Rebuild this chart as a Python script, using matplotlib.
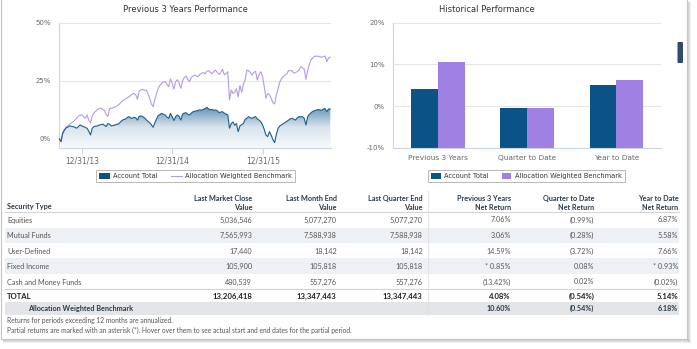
import numpy as np
import pandas as pd
import matplotlib
matplotlib.use("Agg")
import matplotlib.pyplot as plt
import matplotlib.dates as mdates
from matplotlib.patches import Rectangle, FancyBboxPatch
from matplotlib.lines import Line2D
from matplotlib.colors import LinearSegmentedColormap

# ---- data ----
start_date = "2013-10-01"
account_cum = [
    0.0, -1.3, 2.5, 3.8, 4.7, 5.0, 5.5, 5.3, 5.2, 4.9, 4.5, 5.2, 5.9, 5.5, 5.2, 4.8,
    4.5, 3.2, 1.6, 4.5, 5.2, 5.4, 5.5, 5.9, 6.0, 6.3, 5.8, 5.2, 6.5, 6.2, 5.5, 5.7,
    5.9, 6.1, 6.3, 7.0, 7.8, 8.2, 8.4, 9.0, 9.5, 9.0, 8.8, 9.2, 9.0, 8.0, 9.6, 9.8,
    9.5, 9.0, 8.2, 7.5, 6.9, 6.0, 4.9, 6.8, 8.5, 10.0, 10.4, 10.9, 10.5, 10.2, 9.3, 8.8,
    10.9, 9.5, 7.8, 9.5, 10.2, 9.6, 8.0, 10.6, 11.0, 11.2, 10.5, 10.2, 11.0, 11.6, 11.8, 12.0,
    12.2, 12.4, 12.3, 12.6, 13.0, 13.5, 12.8, 12.4, 12.6, 12.2, 12.4, 12.0, 11.2, 11.5, 11.6, 11.0,
    10.6, 10.3, 4.5, 6.5, 7.2, 5.8, 6.5, 3.0, 5.5, 6.0, 6.6, 8.3, 8.8, 9.5, 9.0, 8.8,
    9.2, 9.5, 8.5, 8.0, 7.3, 6.0, 4.0, 1.5, 0.9, 3.0, 1.5, -0.5, -1.7, 2.0, 4.5, 5.5,
    6.0, 6.5, 6.9, 7.5, 8.0, 8.6, 8.8, 8.4, 8.0, 9.0, 9.5, 9.4, 9.5, 8.8, 5.9, 9.5,
    10.5, 11.2, 11.8, 12.1, 12.3, 12.6, 12.4, 12.2, 12.8, 13.0, 11.6, 12.8, 12.8,
]
benchmark_cum = [
    0.0, -1.2, 2.0, 3.5, 5.0, 5.5, 6.3, 6.8, 7.3, 8.0, 8.9, 9.8, 10.0, 10.3, 9.4, 8.8,
    10.2, 8.0, 6.8, 9.8, 11.2, 11.8, 12.6, 12.9, 13.2, 12.5, 12.2, 10.5, 9.6, 13.0, 13.1, 13.3,
    13.6, 14.0, 14.6, 15.2, 16.0, 16.6, 17.0, 17.5, 18.0, 18.6, 19.2, 19.5, 18.9, 17.0, 20.5, 21.0,
    21.3, 20.8, 21.0, 19.5, 17.5, 15.0, 13.8, 16.8, 19.5, 21.7, 23.0, 24.0, 24.3, 24.6, 23.5, 22.4,
    25.8, 24.0, 21.3, 24.6, 25.4, 24.0, 21.7, 25.0, 26.3, 27.0, 25.5, 24.6, 26.4, 27.0, 27.4, 27.0,
    26.7, 27.8, 28.2, 28.5, 28.0, 29.0, 29.3, 28.5, 28.0, 29.0, 29.6, 28.5, 27.6, 28.6, 29.9, 27.5,
    28.0, 28.9, 16.7, 21.0, 19.5, 20.0, 21.5, 18.0, 23.0, 20.0, 23.5, 25.3, 29.6, 29.2, 28.6, 27.4,
    28.6, 29.0, 25.3, 27.5, 28.9, 27.0, 22.5, 17.4, 19.5, 19.0, 17.4, 15.5, 15.0, 18.8, 21.7, 24.5,
    26.0, 26.7, 27.5, 27.9, 29.4, 29.3, 29.3, 28.2, 28.6, 28.9, 29.6, 31.0, 30.6, 30.0, 25.6, 29.5,
    32.0, 34.2, 34.8, 35.6, 35.5, 35.6, 35.3, 35.1, 35.4, 35.6, 33.2, 34.8, 35.1,
]
line_ticks = ["2013-12-31", "2014-12-31", "2015-12-31"]
line_tick_labels = ["12/31/13", "12/31/14", "12/31/15"]

periods = ["Previous 3 Years", "Quarter to Date", "Year to Date"]
account_ret = [4.08, -0.54, 5.14]
benchmark_ret = [10.60, -0.54, 6.18]

col_headers = ["Security Type", "Last Market Close\nValue", "Last Month End\nValue",
               "Last Quarter End\nValue", "Previous 3 Years\nNet Return",
               "Quarter to Date\nNet Return", "Year to Date\nNet Return"]
row_names = ["Equities", "Mutual Funds", "User-Defined", "Fixed Income", "Cash and Money Funds"]
market_close = ["5,036,546", "7,565,993", "17,440", "105,900", "480,539"]
month_end = ["5,077,270", "7,588,938", "18,142", "105,818", "557,276"]
quarter_end = ["5,077,270", "7,588,938", "18,142", "105,818", "557,276"]
ret_3y = ["7.06%", "3.06%", "14.59%", "* 0.85%", "(13.42%)"]
ret_qtd = ["(0.99%)", "(0.28%)", "(3.72%)", "0.08%", "0.02%"]
ret_ytd = ["6.87%", "5.58%", "7.66%", "* 0.93%", "(0.02%)"]
total_row = ["TOTAL", "13,206,418", "13,347,443", "13,347,443", "4.08%", "(0.54%)", "5.14%"]
bench_row = ["Allocation Weighted Benchmark", "", "", "", "10.60%", "(0.54%)", "6.18%"]
notes = ["Returns for periods exceeding 12 months are annualized.",
         "Partial returns are marked with an asterisk (*). Hover over them to see actual start and end dates for the partial period."]

# ---- style ----
W, H = 697, 349
DARK = "#0b5286"
PURPLE = "#9e81e2"
LINE_BLUE = "#1d5f8a"
LINE_PURPLE = "#b49be8"
GRID = "#e6e6e6"
AXIS = "#ccd6eb"
LABEL = "#666666"
TFONT = ["Lato", "DejaVu Sans"]

plt.rcParams['font.family'] = ['DejaVu Sans']


def fx(x):
    return x / W


def fy(y):
    return 1 - y / H


fig = plt.figure(figsize=(W / 100, H / 100), dpi=100)
fig.patch.set_facecolor("white")

# panel border + shadow
for i, a in enumerate([0.35, 0.18, 0.08]):
    fig.add_artist(Line2D([fx(688 + i), fx(688 + i)], [fy(2), fy(340 + i)], color="#888888", alpha=a, lw=1))
    fig.add_artist(Line2D([fx(3), fx(688 + i)], [fy(340 + i), fy(340 + i)], color="#888888", alpha=a, lw=1))
fig.add_artist(Line2D([fx(1), fx(1)], [fy(0), fy(339)], color="#c4c4c4", lw=0.8))
fig.add_artist(Line2D([fx(687), fx(687)], [fy(0), fy(339)], color="#c4c4c4", lw=0.8))
fig.add_artist(Line2D([fx(1), fx(687)], [fy(339), fy(339)], color="#c4c4c4", lw=0.8))

# scroll handle
fig.add_artist(FancyBboxPatch((fx(677.5), fy(63)), fx(5.5), 21 / H,
                              boxstyle="round,pad=0,rounding_size=0.002",
                              facecolor="#2f4b6e", edgecolor="none"))


def style_axes(ax):
    for s in ["top", "right"]:
        ax.spines[s].set_visible(False)
    ax.spines["left"].set_color(AXIS)
    ax.spines["bottom"].set_color(AXIS)
    ax.spines["left"].set_linewidth(0.8)
    ax.spines["bottom"].set_linewidth(0.8)
    ax.grid(axis="y", color=GRID, lw=0.8)
    ax.set_axisbelow(True)
    ax.tick_params(axis="y", length=0, pad=6, labelsize=5, labelcolor=LABEL)


# ---- left: line chart ----
dates = pd.date_range(start_date, periods=len(account_cum), freq="7D")
xd = mdates.date2num(dates)
ax1 = fig.add_axes([fx(59), fy(147.7), (331 - 59) / W, (147.7 - 22.7) / H])
style_axes(ax1)
ymin1 = -3.9
ax1.set_ylim(ymin1, 50)
ax1.set_xlim(xd[0] - 1, xd[-1] + 3)
ax1.set_yticks([0, 25, 50])
ax1.set_yticklabels(["0%", "25%", "50%"])

poly = ax1.fill_between(xd, account_cum, ymin1, facecolor="none", edgecolor="none")
cmap = LinearSegmentedColormap.from_list("g", ["#f7fafc", "#d9e4ed", "#5f8fb5"])
grad = np.linspace(0, 1, 256).reshape(-1, 1)
im = ax1.imshow(grad, cmap=cmap, aspect="auto", origin="lower",
                extent=[xd[0], xd[-1], ymin1, 14], zorder=1)
im.set_clip_path(poly.get_paths()[0], transform=ax1.transData)
ax1.plot(xd, benchmark_cum, color=LINE_PURPLE, lw=0.8, zorder=3)
ax1.plot(xd, account_cum, color=LINE_BLUE, lw=0.8, zorder=3)
ax1.set_xticks(mdates.date2num(pd.to_datetime(line_ticks)))
ax1.set_xticklabels(line_tick_labels)
ax1.tick_params(axis="x", length=4, width=0.8, color=AXIS, pad=2, labelsize=5.5, labelcolor=LABEL)
fig.text(fx(185), fy(9.5), "Previous 3 Years Performance", ha="center", va="center",
         fontsize=6, color="#333333")

h1 = [Rectangle((0, 0), 1, 1, facecolor=DARK), Line2D([0], [0], color=LINE_PURPLE, lw=0.8)]
leg1 = fig.legend(h1, ["Account Total", "Allocation Weighted Benchmark"], loc="center",
                  bbox_to_anchor=(fx(195.5), fy(176)), ncol=2, fontsize=4.8, frameon=True,
                  fancybox=False, edgecolor="#999999", handlelength=1.6, handleheight=0.9,
                  columnspacing=2.0, handletextpad=0.5, borderpad=0.5)
leg1.get_frame().set_linewidth(0.6)
for t in leg1.get_texts():
    t.set_color("#333333")

# ---- right: bar chart (columns start at the axis floor) ----
ax2 = fig.add_axes([fx(393.3), fy(147.7), (661 - 393.3) / W, 125 / H])
style_axes(ax2)
floor = -10
xi = np.arange(len(periods))
bw = 0.3
ax2.bar(xi - bw / 2, np.array(account_ret) - floor, bw, bottom=floor, color=DARK, zorder=2)
ax2.bar(xi + bw / 2, np.array(benchmark_ret) - floor, bw, bottom=floor, color=PURPLE, zorder=2)
ax2.set_xlim(-0.5, 2.5)
ax2.set_ylim(floor, 20)
ax2.set_yticks([-10, 0, 10, 20])
ax2.set_yticklabels(["-10%", "0%", "10%", "20%"])
ax2.set_xticks(xi)
ax2.set_xticklabels(periods)
ax2.tick_params(axis="x", length=0, pad=5, labelsize=5.3, labelcolor=LABEL)
fig.text(fx(487), fy(9.5), "Historical Performance", ha="center", va="center",
         fontsize=6, color="#333333")

h2 = [Rectangle((0, 0), 1, 1, facecolor=DARK), Rectangle((0, 0), 1, 1, facecolor=PURPLE)]
leg2 = fig.legend(h2, ["Account Total", "Allocation Weighted Benchmark"], loc="center",
                  bbox_to_anchor=(fx(526.5), fy(176)), ncol=2, fontsize=4.8, frameon=True,
                  fancybox=False, edgecolor="#999999", handlelength=1.4, handleheight=0.9,
                  columnspacing=2.0, handletextpad=0.5, borderpad=0.5)
leg2.get_frame().set_linewidth(0.6)
for t in leg2.get_texts():
    t.set_color("#333333")

# ---- table ----
col_right = [None, 252.3, 336.7, 422.7, 510.7, 594.3, 678.3]
TX0, TX1 = 5, 678.7
FS = 5.2


def band(y0, y1, color):
    fig.add_artist(Rectangle((fx(TX0), fy(y1)), fx(TX1 - TX0), (y1 - y0) / H,
                             facecolor=color, edgecolor="none", zorder=0))


def hline(y):
    fig.add_artist(Line2D([fx(TX0), fx(TX1)], [fy(y), fy(y)], color="#d4d4d4", lw=0.8))


band(227.7, 243.3, "#edf0f4")
band(258.3, 274.3, "#edf0f4")
band(301.7, 315.3, "#e3e5e8")
hline(212.3)
hline(289.3)
fig.add_artist(Line2D([fx(427.7), fx(427.7)], [fy(191), fy(315.3)], color="#e2e2e2", lw=0.8))

HEAD = "#2b3a4a"
fig.text(fx(7.3), fy(207), col_headers[0], ha="left", va="center", fontsize=FS,
         fontweight="bold", color=HEAD, family=TFONT)
for j in range(1, 7):
    l1, l2 = col_headers[j].split("\n")
    fig.text(fx(col_right[j]), fy(198.3), l1, ha="right", va="center", fontsize=FS,
             fontweight="bold", color=HEAD, family=TFONT)
    fig.text(fx(col_right[j]), fy(207), l2, ha="right", va="center", fontsize=FS,
             fontweight="bold", color=HEAD, family=TFONT)

row_y = [220, 235.7, 251, 266.3, 282]
BODY = "#555555"
for i, name in enumerate(row_names):
    vals = [market_close[i], month_end[i], quarter_end[i], ret_3y[i], ret_qtd[i], ret_ytd[i]]
    fig.text(fx(7.3), fy(row_y[i]), name, ha="left", va="center", fontsize=FS,
             color=BODY, family=TFONT)
    for j, v in enumerate(vals, start=1):
        fig.text(fx(col_right[j]), fy(row_y[i]), v, ha="right", va="center", fontsize=FS,
                 color=BODY, family=TFONT)

fig.text(fx(7.3), fy(296.7), total_row[0], ha="left", va="center", fontsize=FS + 0.4,
         fontweight="bold", color="#222222", family=TFONT)
for j in range(1, 7):
    fig.text(fx(col_right[j]), fy(296.7), total_row[j], ha="right", va="center",
             fontsize=FS + 0.4, fontweight="bold", color="#222222", family=TFONT)

fig.text(fx(28.5), fy(308.3), bench_row[0], ha="left", va="center", fontsize=FS,
         fontweight="bold", color=HEAD, family=TFONT)
for j in range(4, 7):
    fig.text(fx(col_right[j]), fy(308.3), bench_row[j], ha="right", va="center",
             fontsize=FS, fontweight="bold", color=HEAD, family=TFONT)

fig.text(fx(7.3), fy(321), notes[0], ha="left", va="center", fontsize=4.8, color=BODY, family=TFONT)
fig.text(fx(7.3), fy(330), notes[1], ha="left", va="center", fontsize=4.8, color=BODY, family=TFONT)

fig.savefig("out.png", dpi=100)
